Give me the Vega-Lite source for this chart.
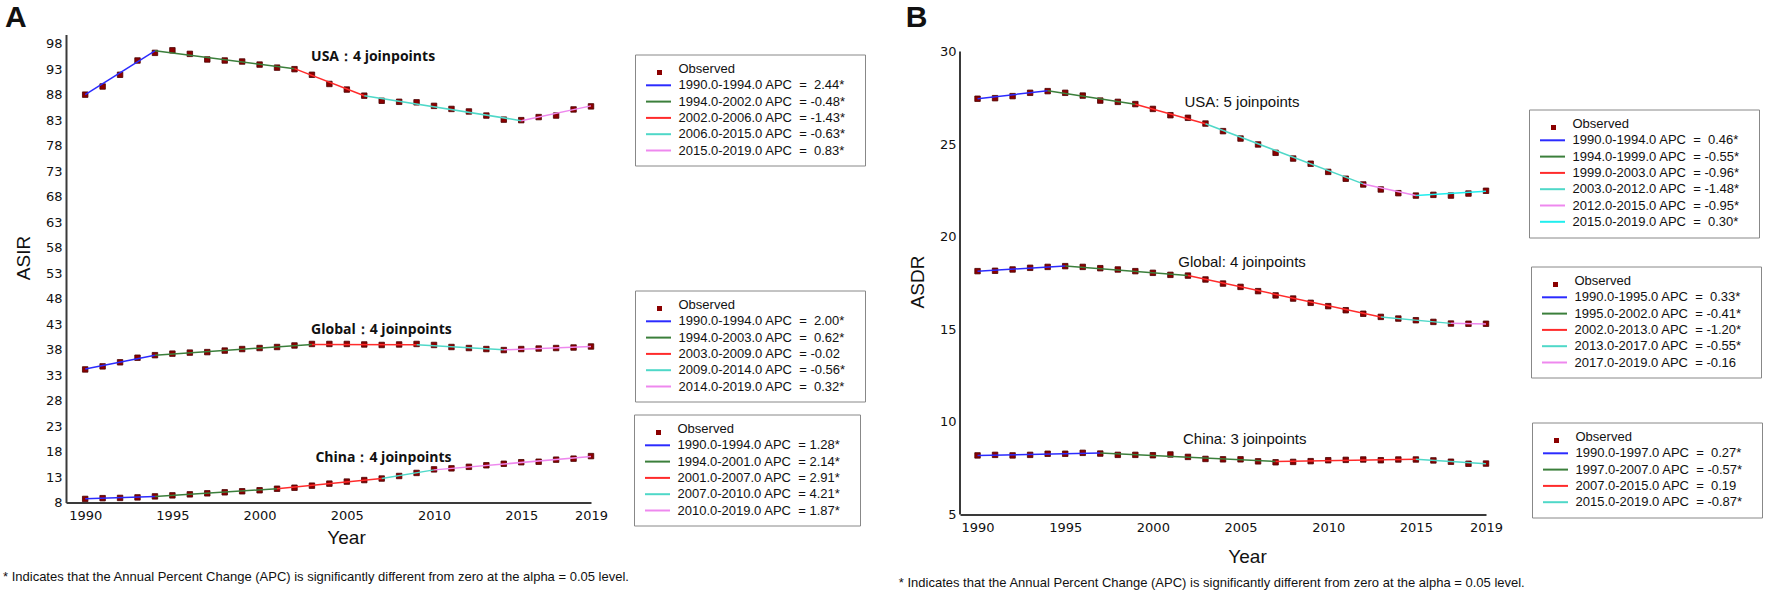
{
  "$schema": "https://vega.github.io/schema/vega-lite/v6.json",
  "padding": {"left": 3, "top": 2.5, "right": 0, "bottom": 0},
  "spacing": 32,
  "config": {
    "view": {"stroke": null},
    "axis": {"grid": false, "ticks": false, "domainColor": "#3a3a3a", "domainWidth": 2, "labelFont": "DejaVu Sans", "labelFontSize": 13, "labelColor": "#111111", "titleFont": "Liberation Sans", "titleFontSize": 19, "titleFontWeight": "normal", "titleColor": "#111111", "labelFlush": false, "labelOverlap": false, "labelBound": false},
    "legend": {"orient": "none", "labelFont": "Liberation Sans", "labelFontSize": 13, "labelColor": "#111111", "symbolSize": 100, "symbolStrokeWidth": 2, "symbolOffset": 9, "labelOffset": 13.5, "rowPadding": 2.3, "padding": 8, "strokeColor": "#888888", "labelLimit": 400},
    "title": {"font": "Liberation Sans", "color": "#111111"}
  },
  "datasets": {
    "obsA": [
      {"r": "USA", "year": 1990, "value": 88.0}, {"r": "USA", "year": 1991, "value": 89.6}, {"r": "USA", "year": 1992, "value": 91.9}, {"r": "USA", "year": 1993, "value": 94.7}, {"r": "USA", "year": 1994, "value": 96.2}, {"r": "USA", "year": 1995, "value": 96.7}, {"r": "USA", "year": 1996, "value": 96.0}, {"r": "USA", "year": 1997, "value": 94.9}, {"r": "USA", "year": 1998, "value": 94.7}, {"r": "USA", "year": 1999, "value": 94.5}, {"r": "USA", "year": 2000, "value": 93.9}, {"r": "USA", "year": 2001, "value": 93.3}, {"r": "USA", "year": 2002, "value": 93.0}, {"r": "USA", "year": 2003, "value": 91.9}, {"r": "USA", "year": 2004, "value": 90.1}, {"r": "USA", "year": 2005, "value": 89.0}, {"r": "USA", "year": 2006, "value": 87.8}, {"r": "USA", "year": 2007, "value": 86.8}, {"r": "USA", "year": 2008, "value": 86.6}, {"r": "USA", "year": 2009, "value": 86.5}, {"r": "USA", "year": 2010, "value": 85.8}, {"r": "USA", "year": 2011, "value": 85.2}, {"r": "USA", "year": 2012, "value": 84.7}, {"r": "USA", "year": 2013, "value": 83.9}, {"r": "USA", "year": 2014, "value": 83.1}, {"r": "USA", "year": 2015, "value": 83.0}, {"r": "USA", "year": 2016, "value": 83.6}, {"r": "USA", "year": 2017, "value": 83.9}, {"r": "USA", "year": 2018, "value": 85.1}, {"r": "USA", "year": 2019, "value": 85.7},
      {"r": "Global", "year": 1990, "value": 34.1}, {"r": "Global", "year": 1991, "value": 34.7}, {"r": "Global", "year": 1992, "value": 35.5}, {"r": "Global", "year": 1993, "value": 36.4}, {"r": "Global", "year": 1994, "value": 36.9}, {"r": "Global", "year": 1995, "value": 37.2}, {"r": "Global", "year": 1996, "value": 37.4}, {"r": "Global", "year": 1997, "value": 37.5}, {"r": "Global", "year": 1998, "value": 37.8}, {"r": "Global", "year": 1999, "value": 38.1}, {"r": "Global", "year": 2000, "value": 38.3}, {"r": "Global", "year": 2001, "value": 38.5}, {"r": "Global", "year": 2002, "value": 38.8}, {"r": "Global", "year": 2003, "value": 39.1}, {"r": "Global", "year": 2004, "value": 39.1}, {"r": "Global", "year": 2005, "value": 39.1}, {"r": "Global", "year": 2006, "value": 39.0}, {"r": "Global", "year": 2007, "value": 38.9}, {"r": "Global", "year": 2008, "value": 39.0}, {"r": "Global", "year": 2009, "value": 39.1}, {"r": "Global", "year": 2010, "value": 38.9}, {"r": "Global", "year": 2011, "value": 38.5}, {"r": "Global", "year": 2012, "value": 38.3}, {"r": "Global", "year": 2013, "value": 38.1}, {"r": "Global", "year": 2014, "value": 37.9}, {"r": "Global", "year": 2015, "value": 38.1}, {"r": "Global", "year": 2016, "value": 38.2}, {"r": "Global", "year": 2017, "value": 38.3}, {"r": "Global", "year": 2018, "value": 38.4}, {"r": "Global", "year": 2019, "value": 38.6},
      {"r": "China", "year": 1990, "value": 8.7}, {"r": "China", "year": 1991, "value": 8.85}, {"r": "China", "year": 1992, "value": 8.9}, {"r": "China", "year": 1993, "value": 9.0}, {"r": "China", "year": 1994, "value": 9.2}, {"r": "China", "year": 1995, "value": 9.4}, {"r": "China", "year": 1996, "value": 9.6}, {"r": "China", "year": 1997, "value": 9.8}, {"r": "China", "year": 1998, "value": 10.0}, {"r": "China", "year": 1999, "value": 10.2}, {"r": "China", "year": 2000, "value": 10.4}, {"r": "China", "year": 2001, "value": 10.7}, {"r": "China", "year": 2002, "value": 10.9}, {"r": "China", "year": 2003, "value": 11.3}, {"r": "China", "year": 2004, "value": 11.7}, {"r": "China", "year": 2005, "value": 12.1}, {"r": "China", "year": 2006, "value": 12.4}, {"r": "China", "year": 2007, "value": 12.7}, {"r": "China", "year": 2008, "value": 13.2}, {"r": "China", "year": 2009, "value": 13.8}, {"r": "China", "year": 2010, "value": 14.5}, {"r": "China", "year": 2011, "value": 14.7}, {"r": "China", "year": 2012, "value": 15.0}, {"r": "China", "year": 2013, "value": 15.3}, {"r": "China", "year": 2014, "value": 15.6}, {"r": "China", "year": 2015, "value": 15.9}, {"r": "China", "year": 2016, "value": 16.0}, {"r": "China", "year": 2017, "value": 16.4}, {"r": "China", "year": 2018, "value": 16.6}, {"r": "China", "year": 2019, "value": 17.1}
    ],
    "obsB": [
      {"r": "USA", "year": 1990, "value": 27.45}, {"r": "USA", "year": 1991, "value": 27.48}, {"r": "USA", "year": 1992, "value": 27.59}, {"r": "USA", "year": 1993, "value": 27.77}, {"r": "USA", "year": 1994, "value": 27.86}, {"r": "USA", "year": 1995, "value": 27.77}, {"r": "USA", "year": 1996, "value": 27.62}, {"r": "USA", "year": 1997, "value": 27.35}, {"r": "USA", "year": 1998, "value": 27.28}, {"r": "USA", "year": 1999, "value": 27.16}, {"r": "USA", "year": 2000, "value": 26.9}, {"r": "USA", "year": 2001, "value": 26.56}, {"r": "USA", "year": 2002, "value": 26.42}, {"r": "USA", "year": 2003, "value": 26.11}, {"r": "USA", "year": 2004, "value": 25.7}, {"r": "USA", "year": 2005, "value": 25.3}, {"r": "USA", "year": 2006, "value": 24.98}, {"r": "USA", "year": 2007, "value": 24.53}, {"r": "USA", "year": 2008, "value": 24.22}, {"r": "USA", "year": 2009, "value": 23.94}, {"r": "USA", "year": 2010, "value": 23.5}, {"r": "USA", "year": 2011, "value": 23.13}, {"r": "USA", "year": 2012, "value": 22.82}, {"r": "USA", "year": 2013, "value": 22.55}, {"r": "USA", "year": 2014, "value": 22.35}, {"r": "USA", "year": 2015, "value": 22.22}, {"r": "USA", "year": 2016, "value": 22.26}, {"r": "USA", "year": 2017, "value": 22.22}, {"r": "USA", "year": 2018, "value": 22.33}, {"r": "USA", "year": 2019, "value": 22.48},
      {"r": "Global", "year": 1990, "value": 18.14}, {"r": "Global", "year": 1991, "value": 18.16}, {"r": "Global", "year": 1992, "value": 18.23}, {"r": "Global", "year": 1993, "value": 18.32}, {"r": "Global", "year": 1994, "value": 18.37}, {"r": "Global", "year": 1995, "value": 18.41}, {"r": "Global", "year": 1996, "value": 18.37}, {"r": "Global", "year": 1997, "value": 18.3}, {"r": "Global", "year": 1998, "value": 18.23}, {"r": "Global", "year": 1999, "value": 18.14}, {"r": "Global", "year": 2000, "value": 18.05}, {"r": "Global", "year": 2001, "value": 17.94}, {"r": "Global", "year": 2002, "value": 17.9}, {"r": "Global", "year": 2003, "value": 17.69}, {"r": "Global", "year": 2004, "value": 17.47}, {"r": "Global", "year": 2005, "value": 17.29}, {"r": "Global", "year": 2006, "value": 17.06}, {"r": "Global", "year": 2007, "value": 16.83}, {"r": "Global", "year": 2008, "value": 16.66}, {"r": "Global", "year": 2009, "value": 16.43}, {"r": "Global", "year": 2010, "value": 16.25}, {"r": "Global", "year": 2011, "value": 16.03}, {"r": "Global", "year": 2012, "value": 15.84}, {"r": "Global", "year": 2013, "value": 15.67}, {"r": "Global", "year": 2014, "value": 15.58}, {"r": "Global", "year": 2015, "value": 15.49}, {"r": "Global", "year": 2016, "value": 15.4}, {"r": "Global", "year": 2017, "value": 15.31}, {"r": "Global", "year": 2018, "value": 15.3}, {"r": "Global", "year": 2019, "value": 15.3},
      {"r": "China", "year": 1990, "value": 8.19}, {"r": "China", "year": 1991, "value": 8.22}, {"r": "China", "year": 1992, "value": 8.19}, {"r": "China", "year": 1993, "value": 8.22}, {"r": "China", "year": 1994, "value": 8.28}, {"r": "China", "year": 1995, "value": 8.28}, {"r": "China", "year": 1996, "value": 8.33}, {"r": "China", "year": 1997, "value": 8.29}, {"r": "China", "year": 1998, "value": 8.22}, {"r": "China", "year": 1999, "value": 8.22}, {"r": "China", "year": 2000, "value": 8.2}, {"r": "China", "year": 2001, "value": 8.24}, {"r": "China", "year": 2002, "value": 8.11}, {"r": "China", "year": 2003, "value": 8.0}, {"r": "China", "year": 2004, "value": 7.98}, {"r": "China", "year": 2005, "value": 7.98}, {"r": "China", "year": 2006, "value": 7.87}, {"r": "China", "year": 2007, "value": 7.82}, {"r": "China", "year": 2008, "value": 7.84}, {"r": "China", "year": 2009, "value": 7.88}, {"r": "China", "year": 2010, "value": 7.93}, {"r": "China", "year": 2011, "value": 7.95}, {"r": "China", "year": 2012, "value": 7.97}, {"r": "China", "year": 2013, "value": 7.93}, {"r": "China", "year": 2014, "value": 7.97}, {"r": "China", "year": 2015, "value": 7.97}, {"r": "China", "year": 2016, "value": 7.92}, {"r": "China", "year": 2017, "value": 7.85}, {"r": "China", "year": 2018, "value": 7.74}, {"r": "China", "year": 2019, "value": 7.75}
    ],
    "segA_USA": [
      {"seg": "1990.0-1994.0 APC\u00a0\u00a0=\u00a0\u00a02.44*", "year": 1990, "x1": 1994, "value": 88.0, "y1": 96.6},
      {"seg": "1994.0-2002.0 APC\u00a0\u00a0=\u00a0-0.48*", "year": 1994, "x1": 2002, "value": 96.6, "y1": 93.1},
      {"seg": "2002.0-2006.0 APC\u00a0\u00a0=\u00a0-1.43*", "year": 2002, "x1": 2006, "value": 93.1, "y1": 87.8},
      {"seg": "2006.0-2015.0 APC\u00a0\u00a0=\u00a0-0.63*", "year": 2006, "x1": 2015, "value": 87.8, "y1": 82.9},
      {"seg": "2015.0-2019.0 APC\u00a0\u00a0=\u00a0\u00a00.83*", "year": 2015, "x1": 2019, "value": 82.9, "y1": 85.8}
    ],
    "segA_Global": [
      {"seg": "1990.0-1994.0 APC\u00a0\u00a0=\u00a0\u00a02.00*", "year": 1990, "x1": 1994, "value": 34.2, "y1": 36.9},
      {"seg": "1994.0-2003.0 APC\u00a0\u00a0=\u00a0\u00a00.62*", "year": 1994, "x1": 2003, "value": 36.9, "y1": 39.0},
      {"seg": "2003.0-2009.0 APC\u00a0\u00a0=\u00a0-0.02", "year": 2003, "x1": 2009, "value": 39.0, "y1": 38.95},
      {"seg": "2009.0-2014.0 APC\u00a0\u00a0=\u00a0-0.56*", "year": 2009, "x1": 2014, "value": 38.95, "y1": 37.95},
      {"seg": "2014.0-2019.0 APC\u00a0\u00a0=\u00a0\u00a00.32*", "year": 2014, "x1": 2019, "value": 37.95, "y1": 38.6}
    ],
    "segA_China": [
      {"seg": "1990.0-1994.0 APC\u00a0\u00a0=\u00a01.28*", "year": 1990, "x1": 1994, "value": 8.75, "y1": 9.2},
      {"seg": "1994.0-2001.0 APC\u00a0\u00a0=\u00a02.14*", "year": 1994, "x1": 2001, "value": 9.2, "y1": 10.7},
      {"seg": "2001.0-2007.0 APC\u00a0\u00a0=\u00a02.91*", "year": 2001, "x1": 2007, "value": 10.7, "y1": 12.7},
      {"seg": "2007.0-2010.0 APC\u00a0\u00a0=\u00a04.21*", "year": 2007, "x1": 2010, "value": 12.7, "y1": 14.4},
      {"seg": "2010.0-2019.0 APC\u00a0\u00a0=\u00a01.87*", "year": 2010, "x1": 2019, "value": 14.4, "y1": 17.0}
    ],
    "segB_USA": [
      {"seg": "1990.0-1994.0 APC\u00a0\u00a0=\u00a0\u00a00.46*", "year": 1990, "x1": 1994, "value": 27.45, "y1": 27.88},
      {"seg": "1994.0-1999.0 APC\u00a0\u00a0=\u00a0-0.55*", "year": 1994, "x1": 1999, "value": 27.88, "y1": 27.15},
      {"seg": "1999.0-2003.0 APC\u00a0\u00a0=\u00a0-0.96*", "year": 1999, "x1": 2003, "value": 27.15, "y1": 26.1},
      {"seg": "2003.0-2012.0 APC\u00a0\u00a0=\u00a0-1.48*", "year": 2003, "x1": 2012, "value": 26.1, "y1": 22.85},
      {"seg": "2012.0-2015.0 APC\u00a0\u00a0=\u00a0-0.95*", "year": 2012, "x1": 2015, "value": 22.85, "y1": 22.22},
      {"seg": "2015.0-2019.0 APC\u00a0\u00a0=\u00a0\u00a00.30*", "year": 2015, "x1": 2019, "value": 22.22, "y1": 22.46}
    ],
    "segB_Global": [
      {"seg": "1990.0-1995.0 APC\u00a0\u00a0=\u00a0\u00a00.33*", "year": 1990, "x1": 1995, "value": 18.13, "y1": 18.42},
      {"seg": "1995.0-2002.0 APC\u00a0\u00a0=\u00a0-0.41*", "year": 1995, "x1": 2002, "value": 18.42, "y1": 17.9},
      {"seg": "2002.0-2013.0 APC\u00a0\u00a0=\u00a0-1.20*", "year": 2002, "x1": 2013, "value": 17.9, "y1": 15.67},
      {"seg": "2013.0-2017.0 APC\u00a0\u00a0=\u00a0-0.55*", "year": 2013, "x1": 2017, "value": 15.67, "y1": 15.32},
      {"seg": "2017.0-2019.0 APC\u00a0\u00a0=\u00a0-0.16", "year": 2017, "x1": 2019, "value": 15.32, "y1": 15.29}
    ],
    "segB_China": [
      {"seg": "1990.0-1997.0 APC\u00a0\u00a0=\u00a0\u00a00.27*", "year": 1990, "x1": 1997, "value": 8.18, "y1": 8.32},
      {"seg": "1997.0-2007.0 APC\u00a0\u00a0=\u00a0-0.57*", "year": 1997, "x1": 2007, "value": 8.32, "y1": 7.86},
      {"seg": "2007.0-2015.0 APC\u00a0\u00a0=\u00a0\u00a00.19", "year": 2007, "x1": 2015, "value": 7.86, "y1": 7.98},
      {"seg": "2015.0-2019.0 APC\u00a0\u00a0=\u00a0-0.87*", "year": 2015, "x1": 2019, "value": 7.98, "y1": 7.74}
    ],
    "annA": [
      {"label": "USA：4 joinpoints", "year": 2002.95, "value": 95.45},
      {"label": "Global：4 joinpoints", "year": 2002.95, "value": 41.9},
      {"label": "China：4 joinpoints", "year": 2003.2, "value": 16.8}
    ],
    "annB": [
      {"label": "USA: 5 joinpoints", "year": 2001.8, "value": 27.25},
      {"label": "Global: 4 joinpoints", "year": 2001.45, "value": 18.66},
      {"label": "China: 3 joinpoints", "year": 2001.72, "value": 9.1}
    ],
    "axisB": [
      {"year": 1989, "value": 5, "y1": 30}
    ]
  },
  "hconcat": [
    {
      "title": {"text": "A", "anchor": "start", "frame": "bounds", "fontSize": 30, "fontWeight": "bold", "dx": 2, "offset": 1.7},
      "vconcat": [
        {
          "width": 525,
          "height": 468,
          "title": {"text": "* Indicates that the Annual Percent Change (APC) is significantly different from zero at the alpha = 0.05 level.", "orient": "bottom", "anchor": "start", "frame": "group", "dx": -63, "offset": 23, "fontSize": 13, "fontWeight": "normal"},
          "resolve": {"scale": {"color": "independent"}},
          "encoding": {
            "x": {"field": "year", "type": "quantitative", "scale": {"domain": [1988.9, 2019], "nice": false, "zero": false}, "axis": {"title": "Year", "values": [1990, 1995, 2000, 2005, 2010, 2015, 2019], "format": "d", "labelPadding": 7, "titleX": 280, "titlePadding": 6}},
            "y": {"field": "value", "type": "quantitative", "scale": {"domain": [8, 99.8], "nice": false, "zero": false}, "axis": {"title": "ASIR", "values": [8, 13, 18, 23, 28, 33, 38, 43, 48, 53, 58, 63, 68, 73, 78, 83, 88, 93, 98], "labelPadding": 4, "titlePadding": 12, "titleY": 223}}
          },
          "layer": [
            {
              "data": {"name": "obsA"},
              "transform": [{"filter": "datum.r === 'USA'"}],
              "mark": {"type": "point", "shape": "square", "filled": true, "size": 30, "stroke": "#4a0000", "strokeWidth": 0.8, "opacity": 1},
              "encoding": {
                "color": {"field": "r", "type": "nominal", "scale": {"domain": ["USA"], "range": ["#8b0000"]}, "legend": {"title": null, "legendX": 587, "legendY": 31.5, "labelExpr": "''", "symbolType": "square", "symbolSize": 25, "symbolStrokeWidth": 0, "symbolOffset": 0, "labelOffset": 0, "padding": 0, "strokeColor": "transparent"}}
              }
            },
            {
              "data": {"name": "obsA"},
              "transform": [{"filter": "datum.r === 'Global'"}],
              "mark": {"type": "point", "shape": "square", "filled": true, "size": 30, "stroke": "#4a0000", "strokeWidth": 0.8, "opacity": 1},
              "encoding": {
                "color": {"field": "r", "type": "nominal", "scale": {"domain": ["Global"], "range": ["#8b0000"]}, "legend": {"title": null, "legendX": 587, "legendY": 267.5, "labelExpr": "''", "symbolType": "square", "symbolSize": 25, "symbolStrokeWidth": 0, "symbolOffset": 0, "labelOffset": 0, "padding": 0, "strokeColor": "transparent"}}
              }
            },
            {
              "data": {"name": "obsA"},
              "transform": [{"filter": "datum.r === 'China'"}],
              "mark": {"type": "point", "shape": "square", "filled": true, "size": 30, "stroke": "#4a0000", "strokeWidth": 0.8, "opacity": 1},
              "encoding": {
                "color": {"field": "r", "type": "nominal", "scale": {"domain": ["China"], "range": ["#8b0000"]}, "legend": {"title": null, "legendX": 586, "legendY": 391.5, "labelExpr": "''", "symbolType": "square", "symbolSize": 25, "symbolStrokeWidth": 0, "symbolOffset": 0, "labelOffset": 0, "padding": 0, "strokeColor": "transparent"}}
              }
            },
            {
              "data": {"name": "segA_USA"},
              "mark": {"type": "rule", "strokeWidth": 1.5},
              "encoding": {
                "x2": {"field": "x1"},
                "y2": {"field": "y1"},
                "color": {"field": "seg", "type": "nominal",
                  "scale": {"domain": ["Observed", "1990.0-1994.0 APC\u00a0\u00a0=\u00a0\u00a02.44*", "1994.0-2002.0 APC\u00a0\u00a0=\u00a0-0.48*", "2002.0-2006.0 APC\u00a0\u00a0=\u00a0-1.43*", "2006.0-2015.0 APC\u00a0\u00a0=\u00a0-0.63*", "2015.0-2019.0 APC\u00a0\u00a0=\u00a0\u00a00.83*"], "range": ["transparent", "#2b2bff", "#3b7f3b", "#ff2b2b", "#4fd8c8", "#ee88ee"]},
                  "legend": {"title": null, "legendX": 569, "legendY": 20, "symbolType": "M-2.5,0H2.5", "labelExpr": "datum.label + '\u00a0\u00a0\u00a0\u200b'"}
                }
              }
            },
            {
              "data": {"name": "segA_Global"},
              "mark": {"type": "rule", "strokeWidth": 1.5},
              "encoding": {
                "x2": {"field": "x1"},
                "y2": {"field": "y1"},
                "color": {"field": "seg", "type": "nominal",
                  "scale": {"domain": ["Observed", "1990.0-1994.0 APC\u00a0\u00a0=\u00a0\u00a02.00*", "1994.0-2003.0 APC\u00a0\u00a0=\u00a0\u00a00.62*", "2003.0-2009.0 APC\u00a0\u00a0=\u00a0-0.02", "2009.0-2014.0 APC\u00a0\u00a0=\u00a0-0.56*", "2014.0-2019.0 APC\u00a0\u00a0=\u00a0\u00a00.32*"], "range": ["transparent", "#2b2bff", "#3b7f3b", "#ff2b2b", "#4fd8c8", "#ee88ee"]},
                  "legend": {"title": null, "legendX": 569, "legendY": 256, "symbolType": "M-2.5,0H2.5", "labelExpr": "datum.label + '\u00a0\u00a0\u00a0\u200b'"}
                }
              }
            },
            {
              "data": {"name": "segA_China"},
              "mark": {"type": "rule", "strokeWidth": 1.5},
              "encoding": {
                "x2": {"field": "x1"},
                "y2": {"field": "y1"},
                "color": {"field": "seg", "type": "nominal",
                  "scale": {"domain": ["Observed", "1990.0-1994.0 APC\u00a0\u00a0=\u00a01.28*", "1994.0-2001.0 APC\u00a0\u00a0=\u00a02.14*", "2001.0-2007.0 APC\u00a0\u00a0=\u00a02.91*", "2007.0-2010.0 APC\u00a0\u00a0=\u00a04.21*", "2010.0-2019.0 APC\u00a0\u00a0=\u00a01.87*"], "range": ["transparent", "#2b2bff", "#3b7f3b", "#ff2b2b", "#4fd8c8", "#ee88ee"]},
                  "legend": {"title": null, "legendX": 568, "legendY": 380, "symbolType": "M-2.5,0H2.5", "labelExpr": "datum.label + '\u00a0\u00a0\u00a0\u200b'"}
                }
              }
            },
            {
              "data": {"name": "annA"},
              "mark": {"type": "text", "align": "left", "baseline": "middle", "font": "Open Sans", "fontWeight": "bold", "fontSize": 14, "color": "#111111"},
              "encoding": {
                "text": {"field": "label"}
              }
            }
          ]
        }
      ]
    },
    {
      "title": {"text": "B", "anchor": "start", "frame": "bounds", "fontSize": 30, "fontWeight": "bold", "dx": 7, "offset": 1.7},
      "vconcat": [
        {
          "width": 526,
          "height": 480,
          "title": {"text": "* Indicates that the Annual Percent Change (APC) is significantly different from zero at the alpha = 0.05 level.", "orient": "bottom", "anchor": "start", "frame": "group", "dx": -61.2, "offset": 10.5, "fontSize": 13, "fontWeight": "normal"},
          "resolve": {"scale": {"color": "independent"}},
          "encoding": {
            "x": {"field": "year", "type": "quantitative", "scale": {"domain": [1989, 2019], "nice": false, "zero": false}, "axis": {"title": "Year", "values": [1990, 1995, 2000, 2005, 2010, 2015, 2019], "format": "d", "labelPadding": 7, "titleX": 287, "titlePadding": 13}},
            "y": {"field": "value", "type": "quantitative", "scale": {"domain": [5, 30.918], "nice": false, "zero": false}, "axis": {"title": "ASDR", "values": [5, 10, 15, 20, 25, 30], "labelPadding": 4, "titlePadding": 12, "titleY": 247, "domain": false}}
          },
          "layer": [
            {
              "data": {"name": "axisB"},
              "mark": {"type": "rule", "color": "#3a3a3a", "strokeWidth": 2},
              "encoding": {
                "y2": {"field": "y1"}
              }
            },
            {
              "data": {"name": "obsB"},
              "transform": [{"filter": "datum.r === 'USA'"}],
              "mark": {"type": "point", "shape": "square", "filled": true, "size": 30, "stroke": "#4a0000", "strokeWidth": 0.8, "opacity": 1},
              "encoding": {
                "color": {"field": "r", "type": "nominal", "scale": {"domain": ["USA"], "range": ["#8b0000"]}, "legend": {"title": null, "legendX": 587, "legendY": 86.5, "labelExpr": "''", "symbolType": "square", "symbolSize": 25, "symbolStrokeWidth": 0, "symbolOffset": 0, "labelOffset": 0, "padding": 0, "strokeColor": "transparent"}}
              }
            },
            {
              "data": {"name": "obsB"},
              "transform": [{"filter": "datum.r === 'Global'"}],
              "mark": {"type": "point", "shape": "square", "filled": true, "size": 30, "stroke": "#4a0000", "strokeWidth": 0.8, "opacity": 1},
              "encoding": {
                "color": {"field": "r", "type": "nominal", "scale": {"domain": ["Global"], "range": ["#8b0000"]}, "legend": {"title": null, "legendX": 589, "legendY": 243.5, "labelExpr": "''", "symbolType": "square", "symbolSize": 25, "symbolStrokeWidth": 0, "symbolOffset": 0, "labelOffset": 0, "padding": 0, "strokeColor": "transparent"}}
              }
            },
            {
              "data": {"name": "obsB"},
              "transform": [{"filter": "datum.r === 'China'"}],
              "mark": {"type": "point", "shape": "square", "filled": true, "size": 30, "stroke": "#4a0000", "strokeWidth": 0.8, "opacity": 1},
              "encoding": {
                "color": {"field": "r", "type": "nominal", "scale": {"domain": ["China"], "range": ["#8b0000"]}, "legend": {"title": null, "legendX": 590, "legendY": 399.5, "labelExpr": "''", "symbolType": "square", "symbolSize": 25, "symbolStrokeWidth": 0, "symbolOffset": 0, "labelOffset": 0, "padding": 0, "strokeColor": "transparent"}}
              }
            },
            {
              "data": {"name": "segB_USA"},
              "mark": {"type": "rule", "strokeWidth": 1.5},
              "encoding": {
                "x2": {"field": "x1"},
                "y2": {"field": "y1"},
                "color": {"field": "seg", "type": "nominal",
                  "scale": {"domain": ["Observed", "1990.0-1994.0 APC\u00a0\u00a0=\u00a0\u00a00.46*", "1994.0-1999.0 APC\u00a0\u00a0=\u00a0-0.55*", "1999.0-2003.0 APC\u00a0\u00a0=\u00a0-0.96*", "2003.0-2012.0 APC\u00a0\u00a0=\u00a0-1.48*", "2012.0-2015.0 APC\u00a0\u00a0=\u00a0-0.95*", "2015.0-2019.0 APC\u00a0\u00a0=\u00a0\u00a00.30*"], "range": ["transparent", "#2b2bff", "#3b7f3b", "#ff2b2b", "#4fd8c8", "#ee88ee", "#20eeee"]},
                  "legend": {"title": null, "legendX": 569, "legendY": 75, "symbolType": "M-2.5,0H2.5", "labelExpr": "datum.label + '\u00a0\u00a0\u00a0\u200b'"}
                }
              }
            },
            {
              "data": {"name": "segB_Global"},
              "mark": {"type": "rule", "strokeWidth": 1.5},
              "encoding": {
                "x2": {"field": "x1"},
                "y2": {"field": "y1"},
                "color": {"field": "seg", "type": "nominal",
                  "scale": {"domain": ["Observed", "1990.0-1995.0 APC\u00a0\u00a0=\u00a0\u00a00.33*", "1995.0-2002.0 APC\u00a0\u00a0=\u00a0-0.41*", "2002.0-2013.0 APC\u00a0\u00a0=\u00a0-1.20*", "2013.0-2017.0 APC\u00a0\u00a0=\u00a0-0.55*", "2017.0-2019.0 APC\u00a0\u00a0=\u00a0-0.16"], "range": ["transparent", "#2b2bff", "#3b7f3b", "#ff2b2b", "#4fd8c8", "#ee88ee"]},
                  "legend": {"title": null, "legendX": 571, "legendY": 232, "symbolType": "M-2.5,0H2.5", "labelExpr": "datum.label + '\u00a0\u00a0\u00a0\u200b'"}
                }
              }
            },
            {
              "data": {"name": "segB_China"},
              "mark": {"type": "rule", "strokeWidth": 1.5},
              "encoding": {
                "x2": {"field": "x1"},
                "y2": {"field": "y1"},
                "color": {"field": "seg", "type": "nominal",
                  "scale": {"domain": ["Observed", "1990.0-1997.0 APC\u00a0\u00a0=\u00a0\u00a00.27*", "1997.0-2007.0 APC\u00a0\u00a0=\u00a0-0.57*", "2007.0-2015.0 APC\u00a0\u00a0=\u00a0\u00a00.19", "2015.0-2019.0 APC\u00a0\u00a0=\u00a0-0.87*"], "range": ["transparent", "#2b2bff", "#3b7f3b", "#ff2b2b", "#4fd8c8"]},
                  "legend": {"title": null, "legendX": 572, "legendY": 388, "symbolType": "M-2.5,0H2.5", "labelExpr": "datum.label + '\u00a0\u00a0\u00a0\u200b'"}
                }
              }
            },
            {
              "data": {"name": "annB"},
              "mark": {"type": "text", "align": "left", "baseline": "middle", "font": "Liberation Sans", "fontSize": 15, "color": "#111111"},
              "encoding": {
                "text": {"field": "label"}
              }
            }
          ]
        }
      ]
    }
  ]
}
